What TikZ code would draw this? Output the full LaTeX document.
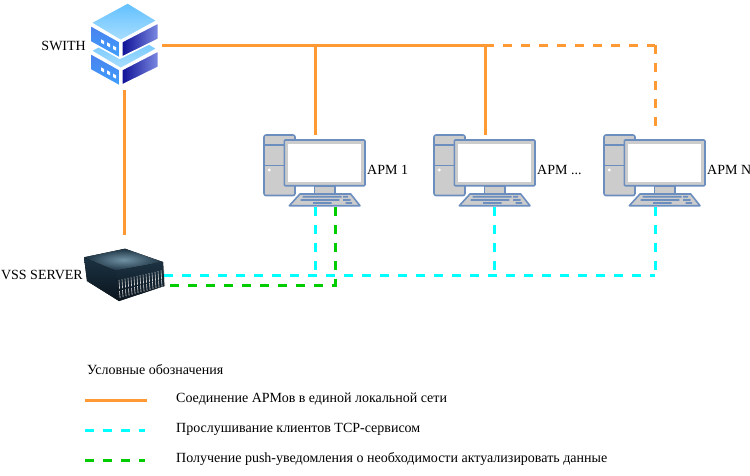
\documentclass[tikz,border=0pt]{standalone}
\usepackage{fontspec}
\setmainfont{Liberation Serif}
\usepackage{xcolor}
\definecolor{lanorange}{RGB}{255,153,51}
\definecolor{tcpcyan}{RGB}{0,255,255}
\definecolor{pushgreen}{RGB}{0,204,0}
\definecolor{pcblue}{RGB}{108,142,191}
\definecolor{pcgrey}{RGB}{204,204,204}
\definecolor{rackskyA}{RGB}{96,192,255}
\definecolor{rackskyB}{RGB}{170,222,255}
\definecolor{rackleftA}{RGB}{74,128,236}
\definecolor{rackleftB}{RGB}{62,160,255}
\definecolor{rackdark}{RGB}{14,16,150}
\definecolor{racklight}{RGB}{124,138,226}
\definecolor{vsstop}{RGB}{112,146,164}
\definecolor{vssmid}{RGB}{28,50,66}
\definecolor{vssdark}{RGB}{10,20,30}
\usetikzlibrary{positioning,calc}
\tikzset{
  lbl/.style     ={inner sep=0pt,font=\fontsize{14pt}{16pt}\selectfont,text=black},
  iconbox/.style ={inner sep=0pt,outer sep=0pt},
  apmbox/.style  ={iconbox,minimum width=102pt,minimum height=72pt},
  lanline/.style ={draw=lanorange,line width=3pt},
  landash/.style ={lanline,dash pattern=on 9pt off 9pt},
  tcpline/.style ={draw=tcpcyan,line width=3pt,dash pattern=on 9pt off 9pt},
  pushline/.style={draw=pushgreen,line width=3pt,dash pattern=on 9pt off 9pt},
  pcpart/.style  ={draw=pcblue,fill=pcgrey,line width=1.6pt,line join=round},
  pckey/.style   ={fill=pcblue},
  boxtop/.style  ={draw=white,line width=1.6pt,line join=round,top color=rackskyA,bottom color=rackskyB},
  boxleft/.style ={draw=white,line width=1.6pt,line join=round,top color=rackleftA,bottom color=rackleftB},
  boxright/.style={draw=white,line width=1.6pt,line join=round,left color=rackdark,right color=racklight},
  pics/apm/.style={code={
    \path[pcpart,rounded corners=2pt] (0,0) rectangle (31,60.5);
    \draw[pcpart] (0,10) -- (20,10) (0,30.5) -- (20,30.5);
    \fill[white] (5.3,35) circle (1.6);
    \path[pcpart,rounded corners=1pt] (20.3,5) rectangle (101,50.7);
    \path[fill=white,draw=pcgrey,line width=2pt] (23.3,8) rectangle (98,47.7);
    \path[pcpart] (50.3,50.7) rectangle (71,59);
    \path[pcpart] (36,59) -- (86.7,59) -- (96,70.7) -- (25.3,70.7) -- cycle;
    \fill[pckey] (38.7,60.9) rectangle (77.7,62.7) (79,60.9) rectangle (84,62.7);
    \fill[pckey] (36.7,64.1) rectangle (75.3,65.9) (79,64.1) rectangle (86.7,65.9);
    \fill[pckey] (49,67.1) rectangle (67.7,68.9) (81.7,67.1) rectangle (88,68.9);
  }},
  pics/rackbox/.style={code={
    \path[boxleft] (90,16.7) -- (120,33.4) -- (120,50) -- (90,33.4) -- cycle;
    \path[boxright] (121.7,33.4) -- (158.3,14.4) -- (158.3,31) -- (121.7,49) -- cycle;
    \path[boxtop] (127.7,-5.6) -- (157.3,12.4) -- (120.7,32.4) -- (90.7,14.4) -- cycle;
    \fill[white] (101,31) -- (104,32.6) -- (104,36) -- (101,34.4) -- cycle;
    \fill[white] (107,34) -- (110,35.6) -- (110,39) -- (107,37.4) -- cycle;
    \fill[white] (113,37.3) -- (116,38.9) -- (116,42.3) -- (113,40.7) -- cycle;
  }},
}
\begin{document}
\begin{tikzpicture}[x=1pt,y=-1pt]
  \useasboundingbox (0,0) rectangle (750,475);
  % equipment
  \node[iconbox,minimum width=76pt,minimum height=90pt] (swith) at (124,45) {};
  \node[iconbox,minimum width=80pt,minimum height=90pt] (vss) at (124,280) {};
  \node[apmbox] (apm1) at (315,171) {};
  \node[apmbox] (apm2) at (485,171) {};
  \node[apmbox] (apmn) at (655,171) {};
  % switch icon, lower box first
  \pic at (0,36.3) {rackbox};
  \pic at (0,8.3) {rackbox};
  % server icon
  \fill[top color=vssmid,bottom color=vssdark] (84,257.3) -- (116,270.7) -- (119,301) -- (87,281) -- cycle;
  \fill[inner color=vsstop,outer color=vssmid] (84,257.3) -- (125,248.7) -- (163,262) -- (116,270.7) -- cycle;
  \fill[top color=vssmid,bottom color=vssdark] (116,270.7) -- (163,262) -- (164.5,286) -- (119,301) -- cycle;
  \foreach \i in {0,...,15} {
    \draw[gray!35,line width=.6pt] ($(119,280)+(\i*3,-\i*.68)$) -- ++(.6,9);
    \draw[gray!28,line width=.6pt] ($(119.5,291)+(\i*3,-\i*.8)$) -- ++(.6,7);
  }
  % computers
  \pic at (apm1.north west) {apm};
  \pic at (apm2.north west) {apm};
  \pic at (apmn.north west) {apm};
  % captions
  \node[lbl,anchor=east] (swithtxt) at ([yshift=-1pt]swith.west) {SWITH};
  \node[lbl,anchor=east] (vsstxt) at ([xshift=-1pt,yshift=5pt]vss.west) {VSS SERVER};
  \node[lbl,anchor=west] (apm1txt) at ([xshift=1pt,yshift=1.5pt]apm1.east) {АРМ 1};
  \node[lbl,anchor=west] (apm2txt) at ([xshift=1pt,yshift=1.5pt]apm2.east) {АРМ ...};
  \node[lbl,anchor=west] (apmntxt) at ([xshift=1pt,yshift=1.5pt]apmn.east) {АРМ N};
  % local network
  \draw[lanline] (swith.south) -- (vss.north);
  \draw[lanline] (swith.east) -- (apm2.north |- swith.east);
  \draw[lanline] (apm1.north |- swith.east) -- (apm1.north);
  \draw[lanline] (apm2.north |- swith.east) -- (apm2.north);
  \draw[landash] (apm2.north |- swith.east) -- (apmn.north |- swith.east);
  \draw[landash] (apmn.north |- swith.east) -- ([yshift=8pt]apmn.north);
  % tcp listening
  \draw[tcpline] ([yshift=5pt]vss.east) -- ($(apmn.south |- vss.east)+(0,-5)$);
  \draw[tcpline] (apm1.south) -- ($(apm1.south |- vss.east)+(0,-5)$);
  \draw[tcpline] ([xshift=9pt]apm2.south) -- ($(apm2.south |- vss.east)+(9,-5)$);
  \draw[tcpline] (apmn.south) -- ($(apmn.south |- vss.east)+(0,-5)$);
  % push
  \draw[pushline] ([xshift=20pt]apm1.south) |- ([yshift=-5pt]vss.east);
  % legend
  \node[lbl,anchor=west] (legtitle) at (87,370) {Условные обозначения};
  \node[lbl,anchor=west] (leglan) at (176,399) {Соединение АРМов в единой локальной сети};
  \node[lbl,anchor=west] (legtcp) at (176,429) {Прослушивание клиентов TCP-сервисом};
  \node[lbl,anchor=west] (legpush) at (176,459) {Получение push-уведомления о необходимости актуализировать данные};
  \coordinate (lanstart) at (85,400);
  \coordinate (tcpstart) at (85,430);
  \coordinate (pushstart) at (85,460);
  \draw[lanline] (lanstart) -- ++(62,0);
  \draw[tcpline] (tcpstart) -- ++(60,0);
  \draw[pushline] (pushstart) -- ++(60,0);
\end{tikzpicture}
\end{document}
